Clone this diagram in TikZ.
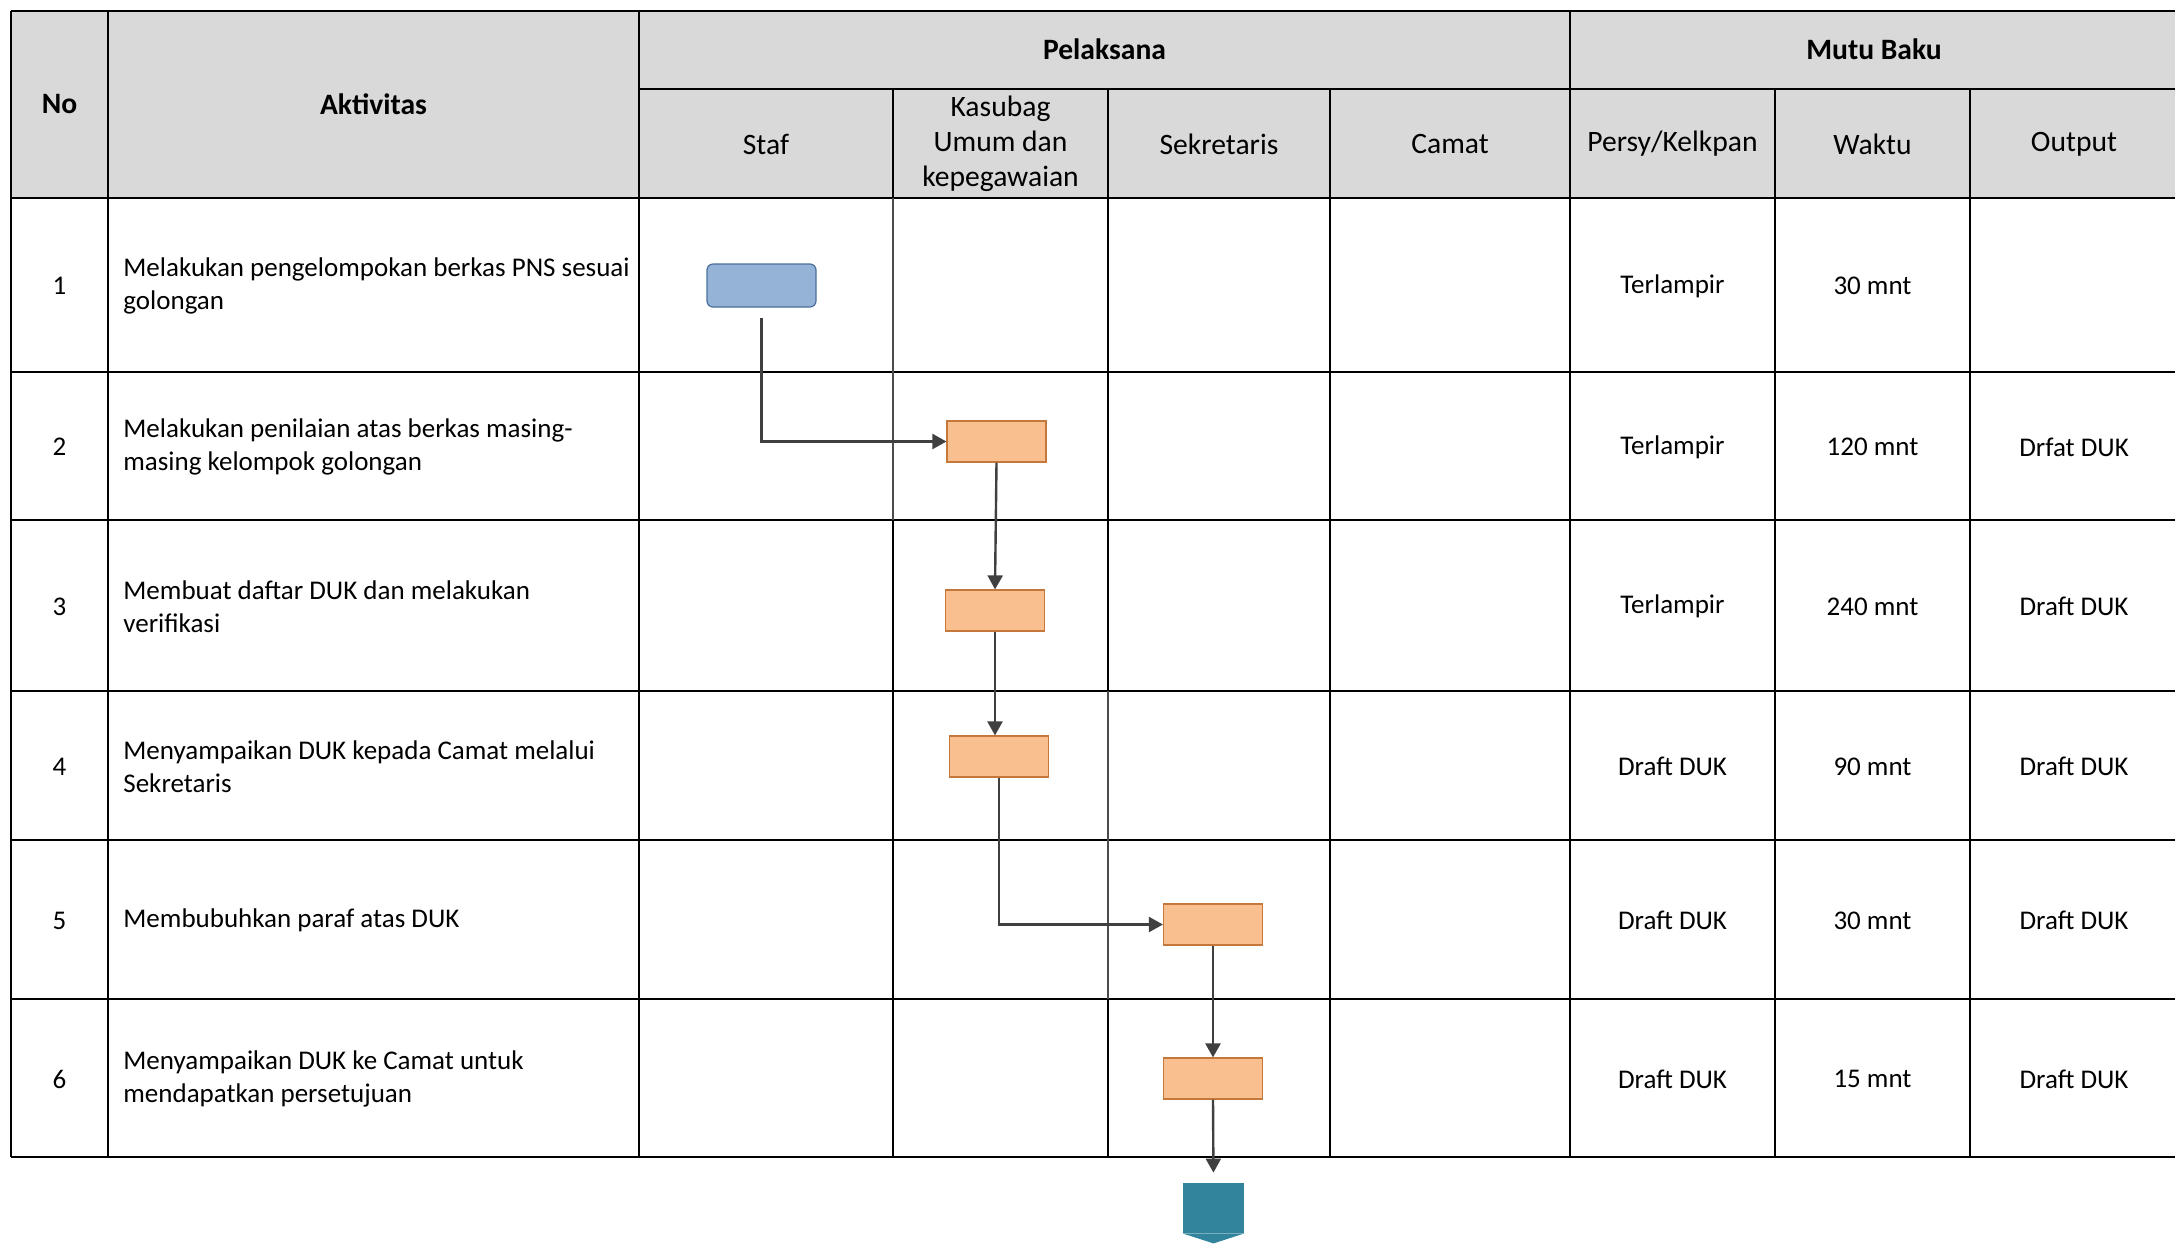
\documentclass[tikz,border=0pt]{standalone}
\usepackage{fontspec}
\setmainfont{Carlito}
\usetikzlibrary{arrows.meta,positioning}
\definecolor{headgray}{HTML}{D9D9D9}
\definecolor{bluefill}{HTML}{95B3D7}
\definecolor{blueline}{HTML}{4A6F9C}
\definecolor{orangefill}{HTML}{F9BF8F}
\definecolor{orangeline}{HTML}{C5783B}
\definecolor{arrowgray}{HTML}{404040}
\definecolor{tealfill}{HTML}{31849B}

\begin{document}
\begin{tikzpicture}[
    x=0.5pt,y=-0.5pt,
    font=\fontsize{13.5}{16.5}\selectfont,
    grid/.style={line width=1.1pt},
    gridlight/.style={line width=0.6pt,draw=black!70},
    cell/.style={align=center,inner sep=0pt},
    headcell/.style={cell,font=\fontsize{14.8}{17.5}\selectfont},
    head/.style={cell,font=\fontsize{14.8}{17.5}\selectfont\bfseries},
    act/.style={anchor=west,align=left,inner sep=0pt},
    startbox/.style={draw=blueline,fill=bluefill,rounded corners=3pt,line width=0.6pt,minimum width=54.5pt,minimum height=21.5pt},
    procbox/.style={draw=orangeline,fill=orangefill,line width=0.6pt,minimum width=49.5pt,minimum height=20.5pt},
    offpage/.style={fill=tealfill,inner sep=0pt,minimum width=30.5pt,minimum height=25pt},
    arr/.style={-{Triangle[length=7pt,width=7.5pt]},line width=1.2pt,draw=arrowgray}
]
\useasboundingbox (0,0) rectangle (2175,1244);
\clip (0,0) rectangle (2175,1244);

% table frame
\fill[headgray] (11,11) rectangle (2178,198);
\foreach \y in {11,198,372,520,691,840,999,1157}
    \draw[grid] (11,\y) -- (2178,\y);
\draw[grid] (639,89) -- (2178,89);
\foreach \x in {11,108,639,1570}
    \draw[grid] (\x,11) -- (\x,1157);
\foreach \x in {1330,1775,1970}
    \draw[grid] (\x,89) -- (\x,1157);
\draw[grid] (893,89) -- (893,198);
\draw[gridlight] (893,198) -- (893,520);
\draw[grid] (893,520) -- (893,1157);
\draw[grid] (1108,89) -- (1108,691);
\draw[gridlight] (1108,691) -- (1108,999);
\draw[grid] (1108,999) -- (1108,1157);

% header
\node[head] (hno) at (59.5,104) {No};
\node[head] (hakt) at (373.5,104) {Aktivitas};
\node[head] (hpel) at (1104.5,49) {Pelaksana};
\node[head] (hmutu) at (1874,49) {Mutu Baku};
\node[headcell] (hstaf) at (766,144) {Staf};
\node[headcell] (hkasub) at (1000.5,144) {Kasubag\\Umum dan\\kepegawaian};
\node[headcell] (hsekr) at (1219,144) {Sekretaris};
\node[headcell] (hcamat) at (1450,144) {Camat};
\node[headcell] (hpers) at (1672.5,144) {Persy/Kelkpan};
\node[headcell] (hwaktu) at (1872.5,144) {Waktu};
\node[headcell] (hout) at (2074,144) {Output};

% rows
\node[cell] (no1) at (59.5,286) {1};
\node[act] (act1) at (123,286) {Melakukan pengelompokan berkas PNS sesuai\\golongan};
\node[cell] (pers1) at (1672.5,286) {Terlampir};
\node[cell] (wkt1) at (1872.5,286) {30 mnt};

\node[cell] (no2) at (59.5,447) {2};
\node[act] (act2) at (123,447) {Melakukan penilaian atas berkas masing-\\masing kelompok golongan};
\node[cell] (pers2) at (1672.5,447) {Terlampir};
\node[cell] (wkt2) at (1872.5,447) {120 mnt};
\node[cell] (out2) at (2074,447) {Drfat DUK};

\node[cell] (no3) at (59.5,606.5) {3};
\node[act] (act3) at (123,606.5) {Membuat daftar DUK dan melakukan\\verifikasi};
\node[cell] (pers3) at (1672.5,606.5) {Terlampir};
\node[cell] (wkt3) at (1872.5,606.5) {240 mnt};
\node[cell] (out3) at (2074,606.5) {Draft DUK};

\node[cell] (no4) at (59.5,766.5) {4};
\node[act] (act4) at (123,766.5) {Menyampaikan DUK kepada Camat melalui\\Sekretaris};
\node[cell] (pers4) at (1672.5,766.5) {Draft DUK};
\node[cell] (wkt4) at (1872.5,766.5) {90 mnt};
\node[cell] (out4) at (2074,766.5) {Draft DUK};

\node[cell] (no5) at (59.5,920.5) {5};
\node[act] (act5) at (123,920.5) {Membubuhkan paraf atas DUK};
\node[cell] (pers5) at (1672.5,920.5) {Draft DUK};
\node[cell] (wkt5) at (1872.5,920.5) {30 mnt};
\node[cell] (out5) at (2074,920.5) {Draft DUK};

\node[cell] (no6) at (59.5,1079) {6};
\node[act] (act6) at (123,1079) {Menyampaikan DUK ke Camat untuk\\mendapatkan persetujuan};
\node[cell] (pers6) at (1672.5,1079) {Draft DUK};
\node[cell] (wkt6) at (1872.5,1079) {15 mnt};
\node[cell] (out6) at (2074,1079) {Draft DUK};

% flow
\node[startbox] (s1) at (761.5,285.5) {};
\node[procbox] (b2) at (996.5,441.5) {};
\node[procbox] (b3) at (995,610.5) {};
\node[procbox] (b4) at (999,756.5) {};
\node[procbox] (b5) at (1213,924.5) {};
\node[procbox] (b6) at (1213,1078.5) {};
\node[offpage] (end) at (1213.5,1208) {};
\fill[tealfill] (end.south west) -- (end.south east) -- ([yshift=-5pt]end.south) -- cycle;

\draw[arr,shorten <=5pt] (s1.south) |- (b2.west);
\draw[arr] (b2.south) -- (b3.north);
\draw[arr] (b3.south) -- (b3.south |- b4.north);
\draw[arr] (b4.south) |- (b5.west);
\draw[arr] (b5.south) -- (b6.north);
\draw[arr,shorten >=5pt] (b6.south) -- (end.north);
\end{tikzpicture}
\end{document}
